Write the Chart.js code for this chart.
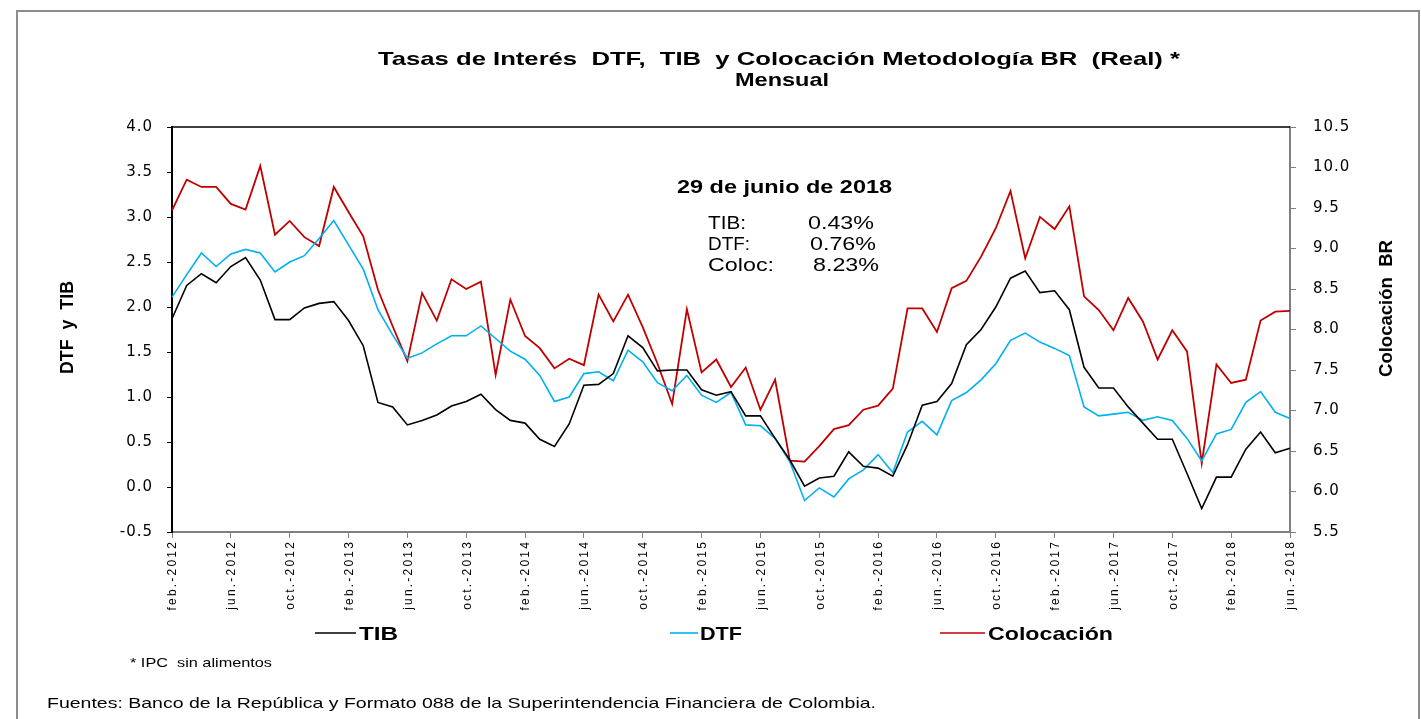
<!DOCTYPE html>
<html lang="es">
<head>
<meta charset="utf-8">
<title>Tasas de Interés DTF, TIB y Colocación</title>
<script src="https://cdn.jsdelivr.net/npm/chart.js@4.4.1/dist/chart.umd.min.js"></script>
<style>
  html, body { margin: 0; padding: 0; background: #fff; }
  canvas { display: block; }
</style>
</head>
<body>
<canvas id="grafico" width="1421" height="719"></canvas>
<script>
// Datos (feb.-2012 a jun.-2018, mensual)
const mesesAbrev = ['ene.', 'feb.', 'mar.', 'abr.', 'may.', 'jun.', 'jul.', 'ago.', 'sep.', 'oct.', 'nov.', 'dic.'];
const meses = [];
for (let k = 1; k <= 1 + 76; k++) {
    meses.push(mesesAbrev[k % 12] + '-' + (2012 + Math.floor(k / 12)));
}

const tib = [
    1.87, 2.24, 2.37, 2.27, 2.45, 2.55, 2.30, 1.86, 1.86, 1.99,
    2.04, 2.06, 1.85, 1.57, 0.94, 0.89, 0.69, 0.74, 0.80, 0.90,
    0.95, 1.03, 0.86, 0.74, 0.71, 0.53, 0.45, 0.70, 1.13, 1.14,
    1.26, 1.68, 1.55, 1.29, 1.30, 1.30, 1.08, 1.02, 1.06, 0.79,
    0.79, 0.54, 0.30, 0.01, 0.10, 0.12, 0.39, 0.23, 0.21, 0.12,
    0.47, 0.91, 0.95, 1.15, 1.58, 1.75, 2.00, 2.32, 2.40, 2.16,
    2.18, 1.97, 1.33, 1.10, 1.10, 0.89, 0.71, 0.53, 0.53, 0.15,
    -0.24, 0.11, 0.11, 0.42, 0.61, 0.38, 0.43
];

const dtf = [
    2.11, 2.36, 2.60, 2.45, 2.59, 2.64, 2.60, 2.39, 2.50, 2.57,
    2.76, 2.96, 2.69, 2.42, 1.97, 1.69, 1.43, 1.49, 1.59, 1.68,
    1.68, 1.79, 1.65, 1.51, 1.42, 1.24, 0.95, 1.00, 1.26, 1.28,
    1.18, 1.52, 1.39, 1.16, 1.07, 1.24, 1.02, 0.94, 1.05, 0.69,
    0.68, 0.54, 0.28, -0.15, -0.01, -0.11, 0.09, 0.19, 0.36, 0.16,
    0.61, 0.73, 0.58, 0.96, 1.05, 1.19, 1.37, 1.63, 1.71, 1.61,
    1.54, 1.46, 0.89, 0.79, 0.81, 0.83, 0.74, 0.78, 0.74, 0.54,
    0.29, 0.59, 0.64, 0.94, 1.06, 0.83, 0.76
];

const colocacion = [
    9.47, 9.85, 9.76, 9.76, 9.55, 9.48, 10.02, 9.17, 9.34, 9.14,
    9.03, 9.76, 9.45, 9.15, 8.49, 8.04, 7.61, 8.45, 8.11, 8.62,
    8.50, 8.59, 7.44, 8.37, 7.92, 7.77, 7.52, 7.64, 7.56, 8.43,
    8.10, 8.43, 8.03, 7.58, 7.08, 8.25, 7.47, 7.63, 7.29, 7.53,
    7.01, 7.38, 6.38, 6.37, 6.56, 6.77, 6.82, 7.01, 7.06, 7.27,
    8.26, 8.26, 7.97, 8.51, 8.60, 8.90, 9.25, 9.71, 8.88, 9.39,
    9.24, 9.52, 8.41, 8.24, 7.99, 8.39, 8.10, 7.63, 7.99, 7.73,
    6.35, 7.57, 7.34, 7.38, 8.11, 8.22, 8.23
];

const series = ['TIB', 'DTF', 'Colocación'];
const colores = ['#000000', '#00b0f0', '#c00000'];

// Textos del gráfico: x, y (línea base), fuente, ancho objetivo
const textos = [
    { t: 'Tasas de Interés  DTF,  TIB  y Colocación Metodología BR  (Real) *', x: 378, y: 65, f: 'bold 19px "Liberation Sans"', w: 802 },
    { t: 'Mensual', x: 735, y: 86, f: 'bold 19px "Liberation Sans"', w: 94 },
    { t: '29 de junio de 2018', x: 677, y: 193, f: 'bold 19px "Liberation Sans"', w: 215 },
    { t: 'TIB:', x: 708, y: 229, f: '19px "Liberation Sans"', w: 38 },
    { t: '0.43%', x: 808, y: 229, f: '19px "Liberation Sans"', w: 66 },
    { t: 'DTF:', x: 708, y: 250, f: '19px "Liberation Sans"', w: 42 },
    { t: '0.76%', x: 810, y: 250, f: '19px "Liberation Sans"', w: 66 },
    { t: 'Coloc:', x: 708, y: 271, f: '19px "Liberation Sans"', w: 66 },
    { t: '8.23%', x: 813, y: 271, f: '19px "Liberation Sans"', w: 66 },
    { t: 'DTF  y  TIB', x: 73, y: 374, f: 'bold 19px "Liberation Sans"', w: 93, rot: -90 },
    { t: 'Colocación  BR', x: 1392, y: 377, f: 'bold 19px "Liberation Sans"', w: 137, rot: -90 },
    { t: '* IPC  sin alimentos', x: 130, y: 667, f: '13px "Liberation Sans"', w: 142 },
    { t: 'Fuentes: Banco de la República y Formato 088 de la Superintendencia Financiera de Colombia.', x: 47, y: 708, f: '15px "Liberation Sans"', w: 829 }
];

const leyenda = [
    { x1: 315, x2: 356, tx: 359, w: 39 },
    { x1: 670, x2: 698, tx: 700, w: 42 },
    { x1: 940, x2: 985, tx: 988, w: 125 }
];

// dibuja un texto estirado horizontalmente hasta el ancho indicado
const ponerTexto = (ctx, d) => {
    ctx.save();
    ctx.letterSpacing = '0px';
    ctx.font = d.f;
    ctx.fillStyle = '#000';
    ctx.textAlign = 'left';
    ctx.textBaseline = 'alphabetic';
    const natural = ctx.measureText(d.t).width;
    const sx = d.w ? d.w / natural : 1;
    ctx.translate(d.x, d.y);
    if (d.rot) ctx.rotate(d.rot * Math.PI / 180);
    ctx.scale(sx, 1);
    ctx.fillText(d.t, 0, 0);
    ctx.restore();
};

const decoracion = {
    id: 'decoracion',
    beforeDraw(chart) {
        const ctx = chart.ctx;
        ctx.save();
        ctx.fillStyle = '#fff';
        ctx.fillRect(0, 0, chart.width, chart.height);
        ctx.strokeStyle = '#8c8c8c';
        ctx.lineWidth = 2;
        ctx.strokeRect(17, 11, 1402, 740);
        ctx.restore();
        ctx.letterSpacing = '1px';
    },
    afterDraw(chart) {
        const ctx = chart.ctx;
        const area = chart.chartArea;
        ctx.save();
        ctx.letterSpacing = '0px';
        ctx.strokeStyle = '#000';
        ctx.lineWidth = 1.5;
        ctx.beginPath();
        ctx.moveTo(area.left, area.top);
        ctx.lineTo(area.right, area.top);
        ctx.stroke();

        // etiquetas del eje x, cada 4 meses
        const xs = chart.scales.x;
        ctx.font = '12px "Liberation Sans"';
        ctx.letterSpacing = '2.2px';
        ctx.fillStyle = '#000';
        ctx.textAlign = 'right';
        ctx.textBaseline = 'middle';
        meses.forEach((m, i) => {
            if (i % 4 !== 0) return;
            ctx.save();
            ctx.translate(xs.getPixelForValue(i) + 1, area.bottom + 8);
            ctx.rotate(-Math.PI / 2);
            ctx.fillText(m, 0, 0);
            ctx.restore();
        });
        ctx.letterSpacing = '0px';

        leyenda.forEach((l, i) => {
            ctx.strokeStyle = colores[i];
            ctx.lineWidth = 1.6;
            ctx.beginPath();
            ctx.moveTo(l.x1, 633);
            ctx.lineTo(l.x2, 633);
            ctx.stroke();
            ponerTexto(ctx, { t: series[i], x: l.tx, y: 640, f: 'bold 19px "Liberation Sans"', w: l.w });
        });

        textos.forEach(d => ponerTexto(ctx, d));
        ctx.restore();
    }
};

const ctx = document.getElementById('grafico').getContext('2d');
new Chart(ctx, {
    type: 'line',
    data: {
        labels: meses,
        datasets: [
            { label: series[0], data: tib, borderColor: colores[0], yAxisID: 'y', borderWidth: 1.6 },
            { label: series[1], data: dtf, borderColor: colores[1], yAxisID: 'y', borderWidth: 1.6 },
            { label: series[2], data: colocacion, borderColor: colores[2], yAxisID: 'y1', borderWidth: 1.8 }
        ]
    },
    options: {
        responsive: false,
        animation: false,
        layout: { padding: { top: 127, left: 0, right: 0, bottom: 0 } },
        elements: { point: { radius: 0 }, line: { tension: 0 } },
        plugins: { legend: { display: false }, tooltip: { enabled: false } },
        scales: {
            x: {
                offset: false,
                grid: {
                    drawOnChartArea: false,
                    tickLength: 6,
                    color: (c) => (c.index % 4 === 0 ? '#808080' : 'rgba(0,0,0,0)')
                },
                border: { color: '#808080', width: 2 },
                ticks: { autoSkip: false, display: false },
                afterFit: (s) => { s.height = 187; }
            },
            y: {
                position: 'left',
                min: -0.5,
                max: 4,
                grid: { drawOnChartArea: false, tickLength: 5, color: '#000' },
                border: { color: '#000', width: 2 },
                ticks: {
                    stepSize: 0.5,
                    padding: 14,
                    color: '#000',
                    font: { family: 'DejaVu Sans', size: 15 },
                    callback: (v) => v.toFixed(1)
                },
                afterFit: (s) => { s.width = 172; }
            },
            y1: {
                position: 'right',
                min: 5.5,
                max: 10.5,
                grid: { drawOnChartArea: false, tickLength: 6, color: '#808080' },
                border: { color: '#808080', width: 2 },
                ticks: {
                    stepSize: 0.5,
                    padding: 17,
                    color: '#000',
                    font: { family: 'DejaVu Sans', size: 15 },
                    callback: (v) => v.toFixed(1)
                },
                afterFit: (s) => { s.width = 131; }
            }
        }
    },
    plugins: [decoracion]
});
</script>
</body>
</html>
